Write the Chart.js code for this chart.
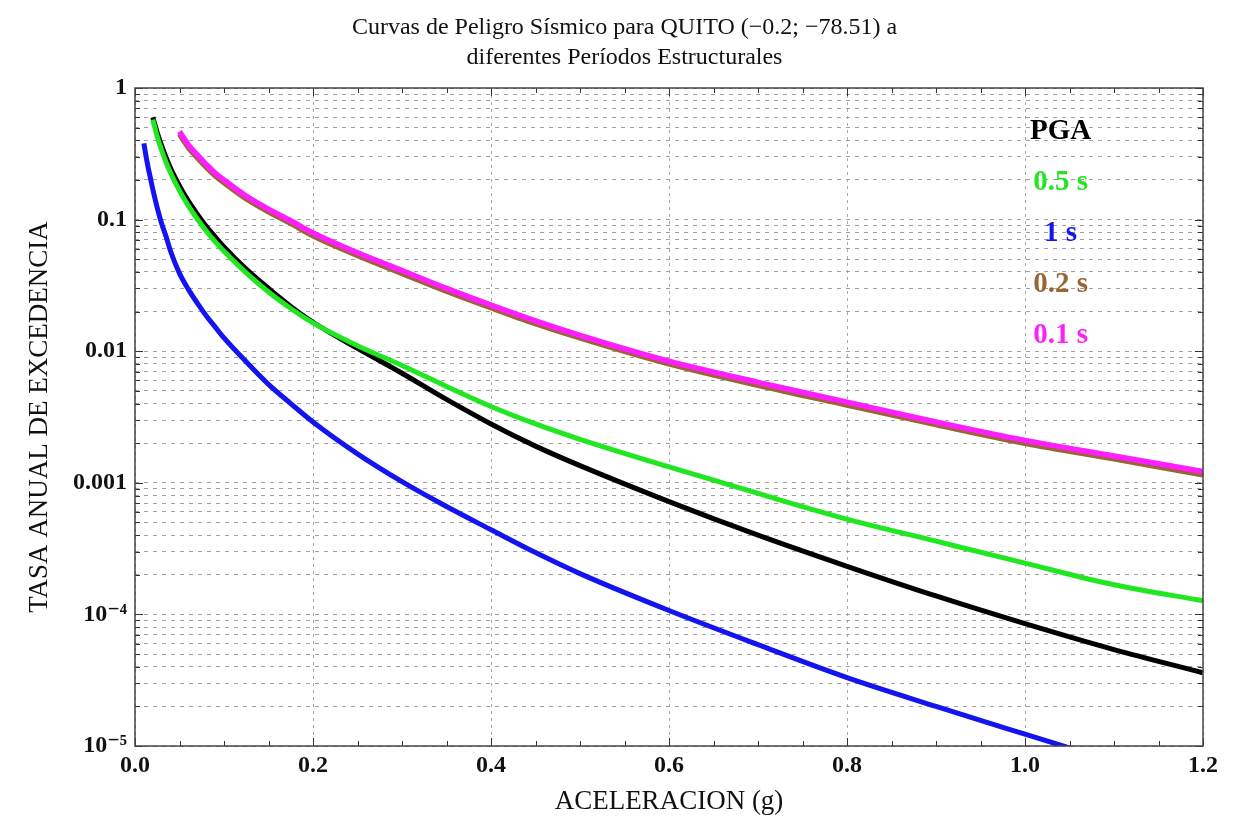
<!DOCTYPE html>
<html>
<head>
<meta charset="utf-8">
<script src="https://cdn.jsdelivr.net/npm/chart.js@4.4.1/dist/chart.umd.min.js"></script>
<style>
  html, body { margin: 0; padding: 0; background: #fff; }
</style>
</head>
<body>
<canvas id="peligro" width="1249" height="819"></canvas>
<script>
// aceleracion (g)
var accel = [0.01, 0.0125, 0.015, 0.0175, 0.02, 0.025, 0.03, 0.035, 0.04, 0.05, 0.06, 0.07, 0.08, 0.09, 0.1, 0.125, 0.15, 0.175, 0.2,
             0.25, 0.3, 0.35, 0.4, 0.45, 0.5, 0.6, 0.7, 0.8, 0.9, 1.0, 1.1, 1.2];

// tasa anual de excedencia por periodo
var pga = [null, null, null, null, 0.6, 0.457, 0.363, 0.295, 0.245, 0.18, 0.138, 0.11, 0.089, 0.074, 0.062, 0.042, 0.03, 0.0219, 0.0166,
           0.0105, 0.0068, 0.0043, 0.0028, 0.0019, 0.00135, 0.00072, 0.0004, 0.000232, 0.000138, 0.000085, 0.000054, 0.000036];
var t05 = [null, null, null, null, 0.575, 0.427, 0.335, 0.272, 0.226, 0.166, 0.127, 0.101, 0.082, 0.068, 0.0575, 0.0394, 0.0282, 0.0211, 0.0164,
           0.011, 0.0078, 0.0054, 0.0038, 0.0028, 0.00214, 0.00132, 0.00083, 0.00053, 0.00036, 0.000245, 0.000168, 0.000127];
var t1  = [0.38, 0.3, 0.245, 0.204, 0.17, 0.123, 0.093, 0.074, 0.0575, 0.039, 0.0295, 0.0232, 0.0186, 0.0153, 0.0126, 0.0083, 0.0056, 0.004, 0.0029,
           0.00166, 0.00102, 0.00066, 0.00044, 0.000295, 0.000204, 0.000107, 0.0000589, 0.0000331, 0.00002, 0.0000123, 0.0000076, null];
var t02 = [null, null, null, null, null, null, null, null, null, 0.447, 0.353, 0.296, 0.251, 0.216, 0.191, 0.144, 0.1145, 0.0935, 0.0754,
           0.0535, 0.039, 0.0286, 0.0214, 0.0162, 0.0126, 0.008, 0.0055, 0.0039, 0.00277, 0.002, 0.00152, 0.00115];
var t01 = [null, null, null, null, null, null, null, null, null, 0.468, 0.37, 0.31, 0.263, 0.226, 0.2, 0.151, 0.12, 0.098, 0.079,
           0.056, 0.041, 0.03, 0.0224, 0.017, 0.0132, 0.0084, 0.0058, 0.0041, 0.0029, 0.0021, 0.0016, 0.00122];

var xTicks = [0, 0.05, 0.1, 0.15, 0.2, 0.25, 0.3, 0.35, 0.4, 0.45, 0.5, 0.55, 0.6, 0.65, 0.7, 0.75, 0.8, 0.85, 0.9, 0.95, 1.0, 1.05, 1.1, 1.15, 1.2];
var yDecades = [0.00001, 0.0001, 0.001, 0.01, 0.1, 1];
var yDecadeLabels = ['10\u207B\u2075', '10\u207B\u2074', '0.001', '0.01', '0.1', '1'];

var etiquetas = ['PGA', '0.5 s', '1 s', '0.2 s', '0.1 s'];
var colores = ['#000000', '#22e622', '#1414f0', '#996633', '#ff1eff'];

var serif = '"Liberation Serif", "DejaVu Serif", serif';

function puntos(vals) {
  return accel.map(function(a, i) { return {x: a, y: vals[i]}; });
}

function esMayorX(v) {
  return Math.abs(v / 0.2 - Math.round(v / 0.2)) < 1e-6;
}
function esDecada(v) {
  var l = Math.log10(v);
  return Math.abs(l - Math.round(l)) < 1e-6;
}

var yTicks = [];
yDecades.forEach(function(d) {
  for (var m = 1; m <= 9; m++) {
    if (d * m <= 1.0000001) yTicks.push(d * m);
  }
});

var marco = {
  id: 'marco',
  afterDraw: function(chart) {
    var ctx = chart.ctx, a = chart.chartArea;
    var xs = chart.scales.x, ys = chart.scales.y;
    ctx.save();
    ctx.strokeStyle = '#333';
    ctx.lineWidth = 1;
    ctx.beginPath();
    xs.ticks.forEach(function(t) {
      var px = Math.round(xs.getPixelForValue(t.value)) + 0.5;
      var len = esMayorX(t.value) ? 8 : 5;
      ctx.moveTo(px, a.bottom); ctx.lineTo(px, a.bottom - len);
      ctx.moveTo(px, a.top); ctx.lineTo(px, a.top + len);
    });
    ys.ticks.forEach(function(t) {
      var py = Math.round(ys.getPixelForValue(t.value)) + 0.5;
      var len = esDecada(t.value) ? 8 : 5;
      ctx.moveTo(a.left, py); ctx.lineTo(a.left + len, py);
      ctx.moveTo(a.right, py); ctx.lineTo(a.right - len, py);
    });
    ctx.stroke();
    ctx.lineWidth = 1.5;
    ctx.strokeStyle = '#444';
    ctx.strokeRect(a.left, a.top, a.right - a.left, a.bottom - a.top);

    ctx.font = 'bold 29px ' + serif;
    ctx.textAlign = 'center';
    ctx.textBaseline = 'middle';
    etiquetas.forEach(function(txt, i) {
      ctx.fillStyle = colores[i];
      ctx.fillText(txt, xs.getPixelForValue(1.04), a.top + 44 + i * 51);
    });
    ctx.restore();
  }
};

function serie(vals, color, ancho, orden) {
  return {
    data: puntos(vals),
    borderColor: color,
    borderWidth: ancho,
    pointRadius: 0,
    cubicInterpolationMode: 'monotone',
    fill: false,
    order: orden,
    clip: 0
  };
}

new Chart(document.getElementById('peligro'), {
  type: 'line',
  data: {
    datasets: [
      serie(t01, colores[4], 5.5, 0),
      serie(t02, colores[3], 5.5, 1),
      serie(t05, colores[1], 5, 2),
      serie(pga, colores[0], 5, 3),
      serie(t1, colores[2], 5, 4)
    ]
  },
  plugins: [marco],
  options: {
    responsive: false,
    animation: false,
    layout: { padding: 0 },
    plugins: {
      legend: { display: false },
      tooltip: { enabled: false },
      title: {
        display: true,
        text: ['Curvas de Peligro S\u00EDsmico para QUITO (\u22120.2; \u221278.51) a', 'diferentes Per\u00EDodos Estructurales'],
        color: '#111',
        font: { family: serif, size: 24, weight: 'normal', lineHeight: 1.25 },
        padding: { top: 13, bottom: 15 }
      }
    },
    scales: {
      x: {
        type: 'linear',
        min: 0,
        max: 1.2,
        afterBuildTicks: function(s) { s.ticks = xTicks.map(function(v) { return {value: v}; }); },
        afterFit: function(s) { s.height = 73; },
        ticks: {
          autoSkip: false,
          maxRotation: 0,
          padding: 5,
          color: '#111',
          font: { family: serif, size: 24, weight: 'bold' },
          callback: function(v) { return esMayorX(v) ? v.toFixed(1) : ''; }
        },
        grid: {
          drawTicks: false,
          lineWidth: 1,
          color: function(c) { return c.tick && esMayorX(c.tick.value) ? '#a8a8a8' : 'rgba(0,0,0,0)'; }
        },
        border: { display: false, dash: [3, 4] },
        title: {
          display: true,
          text: 'ACELERACION (g)',
          color: '#111',
          font: { family: serif, size: 27 },
          padding: { top: 0, bottom: 1 }
        }
      },
      y: {
        type: 'logarithmic',
        min: 0.00001,
        max: 1,
        afterBuildTicks: function(s) { s.ticks = yTicks.map(function(v) { return {value: v}; }); },
        afterFit: function(s) { s.width = 135; },
        ticks: {
          autoSkip: false,
          padding: 8,
          color: '#111',
          font: { family: serif, size: 24, weight: 'bold' },
          callback: function(v) {
            for (var i = 0; i < yDecades.length; i++) {
              if (Math.abs(v / yDecades[i] - 1) < 1e-6) return yDecadeLabels[i];
            }
            return '';
          }
        },
        grid: {
          drawTicks: false,
          lineWidth: 1,
          color: '#a0a0a0'
        },
        border: { display: false, dash: [4, 5] },
        title: {
          display: true,
          text: 'TASA ANUAL DE EXCEDENCIA',
          color: '#111',
          font: { family: serif, size: 27 },
          padding: { top: 24, bottom: 0 }
        }
      },
      // margen derecho vacio
      derecha: {
        type: 'linear',
        position: 'right',
        display: true,
        afterFit: function(s) { s.width = 46; },
        ticks: { display: false },
        grid: { display: false },
        border: { display: false }
      }
    }
  }
});
</script>
</body>
</html>
